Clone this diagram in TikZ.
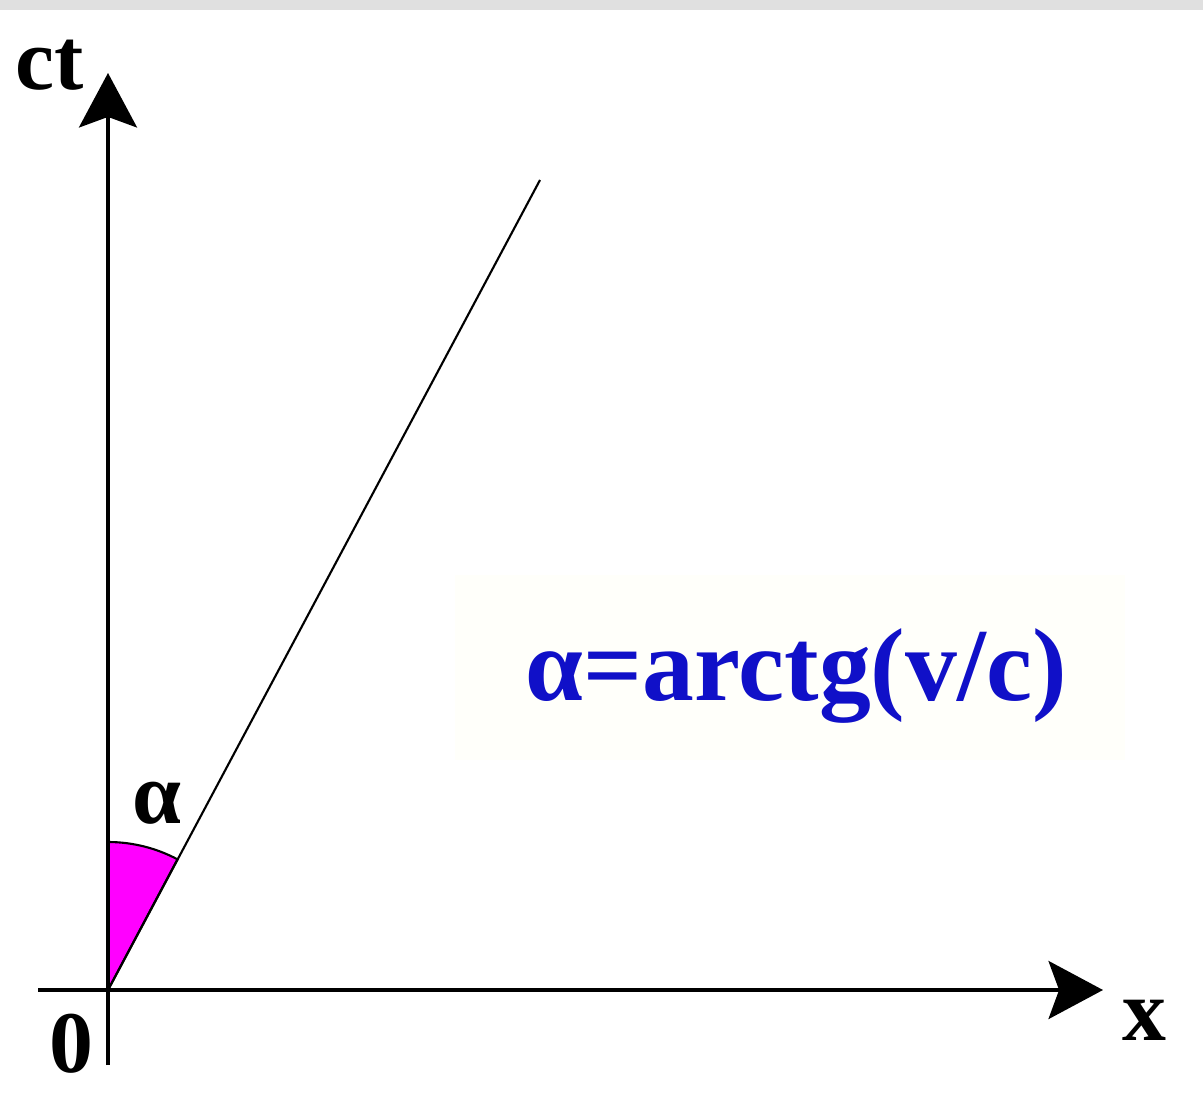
\documentclass[tikz,border=0pt]{standalone}
\usepackage{fontspec}
\setmainfont{Liberation Serif}
\usetikzlibrary{arrows.meta}
\definecolor{formblue}{HTML}{1010C8}
\definecolor{barGray}{HTML}{E0E0E0}
\definecolor{boxbg}{HTML}{FFFFFA}
\definecolor{wedgeMag}{HTML}{FF00FF}
\tikzset{
  axis/.style={line width=2.1pt, -{Stealth[length=31pt,width=33pt,inset=6pt]}},
  lbl/.style={font=\fontsize{50}{52}\selectfont\bfseries, anchor=base, inner sep=0pt},
}
\begin{document}
\begin{tikzpicture}[x=0.02cm,y=0.02cm]
\useasboundingbox (0,0) rectangle (1203,1117);
\fill[white] (0,0) rectangle (1203,1117);
\fill[barGray] (0,1107) rectangle (1203,1117);
\fill[boxbg] (455,357) rectangle (1125,542);
% coordinates
\coordinate (O) at (108,127);
\coordinate (top) at (108,1044);
\coordinate (bottom) at (108,52);
\coordinate (left) at (38,127);
\coordinate (right) at (1103,127);
\coordinate (lend) at (540,937);
% wedge
\filldraw[fill=wedgeMag, draw=black, line width=1.2pt] (O) -- ++(90:148) arc[start angle=90, end angle=62, radius=148] -- cycle;
% axes
\draw[axis] (bottom) -- (top);
\draw[axis] (left) -- (right);
% world line
\draw[line width=1.2pt] (O) -- (lend);
% labels
\node[lbl] (ct) at (50,1027) {ct};
\node[lbl] (xl) at (1144,77) {x};
\node[lbl] (zero) at (71,45) {0};
\node[lbl] (alpha) at (157,294) {α};
\node[lbl, text=formblue, font=\fontsize{59}{61}\selectfont\bfseries] (formula) at (796,417) {α=arctg(v/c)};
\end{tikzpicture}
\end{document}
